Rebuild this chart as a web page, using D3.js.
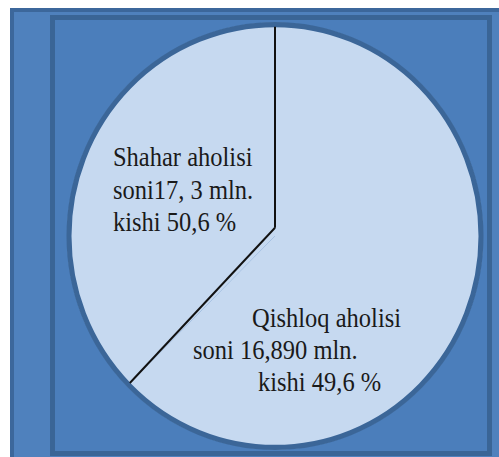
<!DOCTYPE html>
<html>
<head>
<meta charset="utf-8">
<script src="https://cdn.jsdelivr.net/npm/d3@7"></script>
<style>
  body { margin: 0; background: #fff; }
  svg { display: block; }
</style>
</head>
<body>
<svg id="chart" width="499" height="457"></svg>
<script>
// slice shares as drawn in the picture (Qishloq, Shahar)
const categories = ["Qishloq aholisi", "Shahar aholisi"];
const sliceShares = [62.6, 37.4];
const labelLines = [
  ["Qishloq aholisi", "soni 16,890 mln.", "kishi 49,6 %"],
  ["Shahar aholisi", "soni17, 3 mln.", "kishi 50,6 %"]
];

const cx = 275, cy = 236, r = 208;
const svg = d3.select("#chart");

// outer frame
svg.append("rect")
  .attr("x", 12).attr("y", 10)
  .attr("width", 500).attr("height", 460)
  .attr("fill", "#4f81bd")
  .attr("stroke", "#3c679b")
  .attr("stroke-width", 4);

// inner panel
svg.append("rect")
  .attr("x", 52.5).attr("y", 17.5)
  .attr("width", 437).attr("height", 436)
  .attr("fill", "#4b7ebb")
  .attr("stroke", "#3a6596")
  .attr("stroke-width", 5);

const pie = d3.pie().sort(null).value((d) => d)
  .startAngle(0).endAngle(2 * Math.PI);
const arcs = pie(sliceShares);
const arc = d3.arc().innerRadius(0).outerRadius(r);

const g = svg.append("g")
  .attr("transform", `translate(${cx},${cy}) scale(1,1.026)`);

g.selectAll("path.slice")
  .data(arcs)
  .enter().append("path")
  .attr("class", "slice")
  .attr("d", arc)
  .attr("fill", "#c6d9f0");

g.append("circle")
  .attr("r", r - 2)
  .attr("fill", "none")
  .attr("stroke", "#3b6698")
  .attr("stroke-width", 5);

// separator lines between slices (vertex sits a bit above centre)
const vx = 0, vy = -8;
g.selectAll("line.sep")
  .data(arcs)
  .enter().append("line")
  .attr("class", "sep")
  .attr("x1", vx).attr("y1", vy)
  .attr("x2", (d) => (r - 4) * Math.sin(d.startAngle))
  .attr("y2", (d) => -(r - 4) * Math.cos(d.startAngle))
  .attr("stroke", "#111")
  .attr("stroke-width", 2);

// labels
const labelPos = [
  { x: [252, 193, 258], y: [327, 359, 391] },
  { x: [113, 113, 113], y: [166, 199, 231] }
];

labelLines.forEach((lines, i) => {
  lines.forEach((t, j) => {
    svg.append("text")
      .attr("transform", `translate(${labelPos[i].x[j]},${labelPos[i].y[j]}) scale(1,1.1)`)
      .style("font-family", "\"Liberation Serif\"")
      .style("font-size", "24.5px")
      .style("fill", "#1a1a1a")
      .text(t);
  });
});
</script>
</body>
</html>
